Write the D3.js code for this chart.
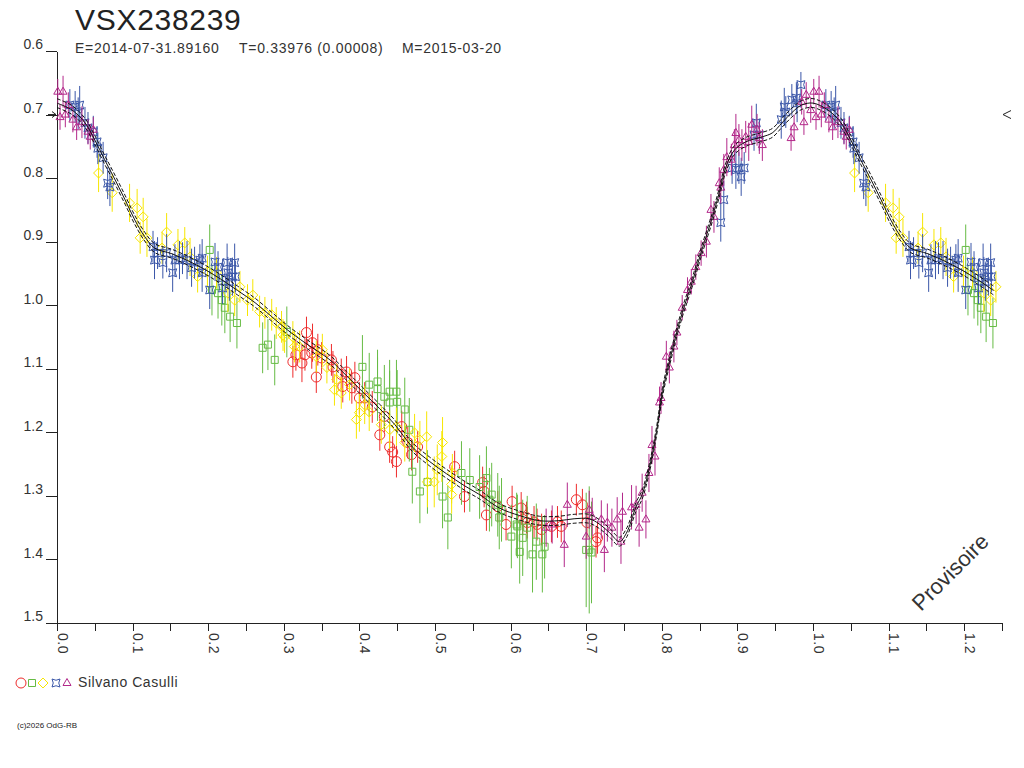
<!DOCTYPE html>
<html>
<head>
<meta charset="utf-8">
<script src="https://cdn.jsdelivr.net/npm/d3@7"></script>
<style>
  body { margin: 0; background: #fff; }
  svg { display: block; font-family: "Liberation Sans", Arial, sans-serif; }
</style>
</head>
<body>
<svg id="chart"></svg>
<script>
// Observation series: [phase, magnitude, error]
const redCircles = [
  [0.312,1.089,0.025],[0.316,1.078,0.025],[0.324,1.091,0.03],[0.328,1.078,0.025],[0.330,1.043,0.025],
  [0.337,1.075,0.025],[0.338,1.059,0.03],[0.343,1.113,0.025],[0.345,1.070,0.025],[0.350,1.083,0.025],
  [0.363,1.086,0.025],[0.365,1.097,0.025],[0.376,1.109,0.025],[0.378,1.128,0.025],[0.383,1.105,0.025],
  [0.390,1.130,0.025],[0.394,1.114,0.025],[0.400,1.146,0.025],[0.407,1.146,0.025],[0.417,1.160,0.025],
  [0.427,1.204,0.025],[0.433,1.175,0.025],[0.440,1.223,0.025],[0.444,1.231,0.025],[0.449,1.246,0.025],
  [0.456,1.191,0.025],[0.464,1.216,0.025],[0.469,1.235,0.025],[0.477,1.223,0.025],[0.526,1.254,0.025],
  [0.539,1.301,0.025],[0.563,1.279,0.025],[0.565,1.293,0.025],[0.568,1.330,0.025],[0.583,1.317,0.025],
  [0.594,1.345,0.025],[0.602,1.309,0.025],[0.614,1.319,0.025],[0.616,1.337,0.025],[0.621,1.334,0.025],
  [0.622,1.342,0.025],[0.631,1.341,0.025],[0.635,1.345,0.025],[0.641,1.353,0.025],[0.654,1.348,0.025],
  [0.662,1.341,0.025],[0.667,1.348,0.025],[0.687,1.306,0.025],[0.695,1.314,0.025],[0.701,1.342,0.025],
  [0.713,1.372,0.025],[0.715,1.366,0.025]
];

const greenSquares = [
  [0.202,0.913,0.04],[0.205,0.976,0.04],[0.213,0.981,0.04],[0.218,0.992,0.04],[0.222,1.004,0.04],
  [0.229,1.018,0.04],[0.238,1.028,0.04],[0.272,1.067,0.04],[0.279,1.062,0.04],[0.288,1.086,0.04],
  [0.304,1.042,0.04],[0.404,1.097,0.05],[0.413,1.125,0.05],[0.424,1.120,0.05],[0.424,1.132,0.05],
  [0.433,1.144,0.05],[0.440,1.136,0.05],[0.449,1.136,0.05],[0.440,1.153,0.05],[0.450,1.152,0.05],
  [0.460,1.164,0.05],[0.466,1.196,0.05],[0.470,1.262,0.05],[0.480,1.293,0.05],[0.490,1.278,0.05],
  [0.510,1.301,0.05],[0.517,1.334,0.05],[0.535,1.264,0.05],[0.546,1.275,0.05],[0.559,1.286,0.05],
  [0.568,1.272,0.05],[0.572,1.306,0.05],[0.575,1.298,0.05],[0.583,1.314,0.05],[0.585,1.334,0.05],
  [0.588,1.322,0.05],[0.601,1.364,0.05],[0.608,1.345,0.05],[0.609,1.348,0.05],[0.612,1.388,0.05],
  [0.616,1.366,0.06],[0.622,1.350,0.05],[0.629,1.392,0.06],[0.634,1.372,0.06],[0.642,1.392,0.06],
  [0.645,1.380,0.05],[0.700,1.385,0.09],[0.704,1.385,0.10],[0.707,1.389,0.08]
];

const yellowDiamonds = [
  [0.055,0.792,0.03],[0.073,0.823,0.03],[0.096,0.839,0.03],[0.106,0.847,0.03],[0.114,0.861,0.03],
  [0.110,0.894,0.025],[0.119,0.894,0.03],[0.139,0.910,0.025],[0.145,0.885,0.03],[0.160,0.905,0.025],
  [0.169,0.902,0.025],[0.176,0.924,0.03],[0.186,0.955,0.025],[0.199,0.947,0.025],[0.211,0.949,0.025],
  [0.226,0.981,0.03],[0.235,0.992,0.025],[0.242,0.971,0.025],[0.252,0.992,0.025],[0.259,0.984,0.025],
  [0.268,1.010,0.025],[0.275,1.012,0.025],[0.284,1.015,0.025],[0.290,1.028,0.025],[0.297,1.034,0.025],
  [0.299,1.047,0.025],[0.301,1.050,0.025],[0.312,1.050,0.025],[0.314,1.065,0.025],[0.321,1.065,0.025],
  [0.343,1.081,0.025],[0.351,1.070,0.025],[0.357,1.098,0.025],[0.367,1.133,0.025],[0.370,1.117,0.025],
  [0.376,1.138,0.025],[0.387,1.125,0.025],[0.396,1.180,0.03],[0.400,1.169,0.03],[0.407,1.157,0.03],
  [0.413,1.168,0.03],[0.429,1.188,0.03],[0.440,1.196,0.03],[0.449,1.191,0.03],[0.460,1.216,0.03],
  [0.473,1.201,0.03],[0.480,1.212,0.03],[0.489,1.207,0.04],[0.490,1.278,0.04],[0.499,1.278,0.04],
  [0.503,1.259,0.04],[0.509,1.238,0.04],[0.510,1.216,0.04],[0.522,1.282,0.03],[0.522,1.298,0.03],
  [0.523,1.264,0.03]
];

const blueStars = [
  [0.017,0.685,0.025],[0.024,0.688,0.025],[0.030,0.685,0.03],[0.028,0.698,0.025],[0.037,0.713,0.025],
  [0.041,0.721,0.025],[0.048,0.727,0.025],[0.053,0.743,0.025],[0.054,0.753,0.025],[0.061,0.768,0.025],
  [0.067,0.808,0.025],[0.070,0.814,0.03],
  [0.127,0.908,0.025],[0.129,0.929,0.03],[0.133,0.918,0.025],[0.140,0.933,0.025],[0.145,0.918,0.03],
  [0.153,0.949,0.03],[0.156,0.929,0.025],[0.162,0.929,0.03],[0.166,0.926,0.025],[0.172,0.929,0.03],
  [0.178,0.941,0.03],[0.182,0.933,0.025],[0.189,0.929,0.025],[0.192,0.926,0.03],[0.192,0.949,0.03],
  [0.202,0.976,0.03],[0.209,0.932,0.03],[0.213,0.940,0.025],[0.219,0.957,0.03],[0.219,0.973,0.025],
  [0.225,0.933,0.03],[0.226,0.949,0.025],[0.228,0.963,0.03],[0.232,0.955,0.03],[0.235,0.933,0.03],
  [0.236,0.955,0.025],
  [0.878,0.870,0.03],[0.882,0.834,0.03],[0.893,0.784,0.025],[0.898,0.787,0.03],[0.902,0.784,0.025],
  [0.905,0.798,0.03],[0.909,0.784,0.025],[0.922,0.732,0.025],[0.925,0.713,0.03],[0.929,0.732,0.025],
  [0.958,0.708,0.03],[0.962,0.688,0.03],[0.964,0.696,0.025],[0.972,0.677,0.025],[0.978,0.674,0.025],
  [0.979,0.682,0.03],[0.984,0.653,0.02]
];

const magentaTriangles = [
  [0.001,0.664,0.02],[0.008,0.664,0.025],[0.004,0.704,0.02],[0.015,0.685,0.02],[0.011,0.700,0.02],
  [0.021,0.708,0.02],[0.026,0.720,0.02],[0.033,0.712,0.025],[0.041,0.727,0.02],[0.048,0.724,0.02],
  [0.044,0.735,0.02],
  [0.647,1.350,0.03],[0.655,1.345,0.03],[0.671,1.377,0.035],[0.675,1.314,0.035],[0.700,1.364,0.035],
  [0.704,1.322,0.03],[0.708,1.333,0.03],[0.720,1.337,0.03],[0.724,1.385,0.035],[0.728,1.342,0.03],
  [0.734,1.350,0.03],[0.741,1.337,0.035],[0.746,1.372,0.035],[0.748,1.325,0.03],[0.760,1.318,0.035],
  [0.766,1.314,0.03],[0.770,1.350,0.03],[0.774,1.295,0.03],[0.779,1.337,0.03],[0.783,1.264,0.03],
  [0.787,1.220,0.03],[0.791,1.238,0.03],
  [0.797,1.153,0.025],[0.799,1.146,0.025],[0.806,1.081,0.025],[0.810,1.098,0.025],[0.816,1.065,0.025],
  [0.820,1.043,0.02],[0.827,1.004,0.02],[0.834,0.976,0.02],[0.839,0.963,0.02],[0.845,0.940,0.02],
  [0.852,0.918,0.02],[0.859,0.900,0.025],[0.865,0.850,0.025],[0.869,0.861,0.025],[0.876,0.808,0.025],
  [0.878,0.815,0.025],[0.882,0.787,0.025],[0.886,0.767,0.03],[0.892,0.771,0.025],[0.896,0.748,0.025],
  [0.898,0.729,0.03],[0.902,0.740,0.025],[0.906,0.748,0.025],[0.911,0.735,0.025],[0.915,0.743,0.03],
  [0.919,0.716,0.03],[0.926,0.724,0.025],[0.929,0.737,0.025],[0.933,0.748,0.025],
  [0.971,0.737,0.02],[0.975,0.720,0.02],[0.985,0.680,0.02],[0.988,0.712,0.02],[0.991,0.669,0.02],
  [0.997,0.693,0.02]
];

// Fitted light curve (phase, magnitude)
const fitPhase = [0.000,0.020,0.037,0.050,0.063,0.077,0.090,0.103,0.116,0.129,0.152,0.173,0.196,0.218,
  0.239,0.262,0.284,0.305,0.328,0.361,0.383,0.404,0.427,0.447,0.470,0.493,0.515,0.539,0.559,0.585,
  0.612,0.638,0.664,0.684,0.704,0.717,0.731,0.744,0.753,0.766,0.774,0.783,0.793,0.801,0.814,0.827,
  0.840,0.853,0.867,0.876,0.885,0.896,0.911,0.933,0.946,0.959,0.972,0.985];
const fitMag = [0.682,0.693,0.713,0.740,0.771,0.803,0.834,0.866,0.892,0.910,0.919,0.930,0.944,0.960,
  0.977,0.996,1.018,1.039,1.059,1.086,1.111,1.136,1.163,1.188,1.223,1.246,1.265,1.284,1.298,1.319,
  1.331,1.339,1.339,1.336,1.336,1.344,1.358,1.372,1.359,1.317,1.298,1.259,1.199,1.136,1.070,1.012,
  0.965,0.913,0.861,0.823,0.782,0.756,0.743,0.735,0.729,0.713,0.697,0.685];
const fitSpread = 0.007;
const arrowMag = 0.70;

const xTicks = d3.range(0, 26).map(i => i * 0.05);
const yTicks = [0.6, 0.7, 0.8, 0.9, 1.0, 1.1, 1.2, 1.3, 1.4, 1.5];

const seriesList = [
  { data: redCircles, color: "#ee2b2b", shape: "circle" },
  { data: greenSquares, color: "#66bb44", shape: "square" },
  { data: yellowDiamonds, color: "#f7e600", shape: "diamond" },
  { data: blueStars, color: "#3a56a8", shape: "star" },
  { data: magentaTriangles, color: "#b3288a", shape: "triangle" }
];

const width = 1024, height = 768;
const svg = d3.select("#chart").attr("width", width).attr("height", height);

const x = d3.scaleLinear().domain([0, 1.25]).range([57, 1002]);
const y = d3.scaleLinear().domain([0.6, 1.5]).range([51, 623]);

function shapePath(shape) {
  switch (shape) {
    case "square": return "M-3.5,-3.5H3.5V3.5H-3.5Z";
    case "diamond": return "M0,-5L5,0L0,5L-5,0Z";
    case "triangle": return "M0,-4.5L4,2.5H-4Z";
    case "star": return "M-4,-4Q0,-1.5 4,-4Q1.5,0 4,4Q0,1.5 -4,4Q-1.5,0 -4,-4Z";
    default: return null;
  }
}

function drawMarker(g, shape, color, cx, cy) {
  if (shape === "circle") {
    g.append("circle").attr("cx", cx).attr("cy", cy).attr("r", 5)
      .attr("fill", "none").attr("stroke", color);
  } else {
    g.append("path").attr("d", shapePath(shape))
      .attr("transform", `translate(${cx},${cy})`)
      .attr("fill", "none").attr("stroke", color);
  }
}

// Repeat phases 0-0.25 after 1.0
function extend(data) {
  return data.concat(data.filter(d => d[0] <= 0.25).map(d => [d[0] + 1, d[1], d[2]]));
}

// Axes
const yAxis = d3.axisLeft(y).tickValues(yTicks).tickSize(11).tickSizeOuter(0).tickPadding(3)
  .tickFormat(d3.format(".1f"));
const gy = svg.append("g").attr("transform", "translate(57,0)").call(yAxis);
gy.selectAll("text").attr("dy", "-0.15em").attr("font-size", 14).attr("fill", "#333")
  .attr("font-family", "Liberation Sans, Arial, sans-serif");

const xAxis = d3.axisBottom(x).tickValues(xTicks).tickSize(8).tickSizeOuter(0)
  .tickFormat(d => Math.round(d * 100) % 10 === 0 ? d3.format(".1f")(d) : "");
const gx = svg.append("g").attr("transform", "translate(0,623)").call(xAxis);
gx.selectAll("text")
  .attr("transform", "rotate(90)")
  .attr("x", 10).attr("y", 0).attr("dy", 0)
  .attr("text-anchor", "start")
  .attr("font-size", 14).attr("fill", "#333").attr("letter-spacing", 0.5)
  .attr("font-family", "Liberation Sans, Arial, sans-serif");
svg.selectAll(".domain, .tick line").attr("stroke", "#222").attr("shape-rendering", "crispEdges");

// Data points with error bars
const plot = svg.append("g");
seriesList.forEach(s => {
  const g = plot.append("g");
  extend(s.data).forEach(d => {
    const cx = x(d[0]), cy = y(d[1]);
    g.append("line")
      .attr("x1", cx).attr("x2", cx)
      .attr("y1", y(d[1] - d[2])).attr("y2", y(d[1] + d[2]))
      .attr("stroke", s.color);
    drawMarker(g, s.shape, s.color, cx, cy);
  });
});

// Fit curve and envelope
const fitPts = fitPhase.map((p, i) => [p, fitMag[i]]);
const fitAll = fitPts.concat(fitPts.filter(d => d[0] <= 0.26).map(d => [d[0] + 1, d[1]]));
const line = d3.line().x(d => x(d[0])).y(d => y(d[1])).curve(d3.curveCatmullRom);
svg.append("path").datum(fitAll).attr("d", line)
  .attr("fill", "none").attr("stroke", "#111").attr("stroke-width", 1);
[-fitSpread, fitSpread].forEach(off => {
  svg.append("path").datum(fitAll.map(d => [d[0], d[1] + off])).attr("d", line)
    .attr("fill", "none").attr("stroke", "#111").attr("stroke-width", 1)
    .attr("stroke-dasharray", "4,2");
});

// Arrows at max level
const ay = y(arrowMag);
svg.append("path").attr("d", `M48,${ay}L56,${ay}M52,${ay - 3}L56,${ay}L52,${ay + 3}`)
  .attr("fill", "none").attr("stroke", "#222");
svg.append("path").attr("d", `M1011,${ay - 4}L1003,${ay}L1011,${ay + 4}`)
  .attr("fill", "none").attr("stroke", "#222");

// Titles
svg.append("text").attr("x", 75).attr("y", 30).attr("font-size", 30).attr("fill", "#222")
  .attr("letter-spacing", 0.7).text("VSX238239");
[["E=2014-07-31.89160", 75], ["T=0.33976 (0.00008)", 239], ["M=2015-03-20", 402]].forEach(t => {
  svg.append("text").attr("x", t[1]).attr("y", 53).attr("font-size", 14).attr("fill", "#333")
    .attr("letter-spacing", 0.7).text(t[0]);
});

// Watermark
svg.append("text").attr("transform", "translate(921,612) rotate(-45)")
  .attr("font-size", 22).attr("fill", "#333").text("Provisoire");

// Legend
const lg = svg.append("g");
const legendX = [21, 32, 43, 56, 67];
seriesList.forEach((s, i) => drawMarker(lg, s.shape, s.color, legendX[i], 683));
lg.append("text").attr("x", 78).attr("y", 687).attr("font-size", 14).attr("fill", "#333")
  .attr("letter-spacing", 0.55).text("Silvano Casulli");

svg.append("text").attr("x", 17).attr("y", 728).attr("font-size", 8).attr("fill", "#222")
  .text("(c)2026 OdG-RB");
</script>
</body>
</html>
